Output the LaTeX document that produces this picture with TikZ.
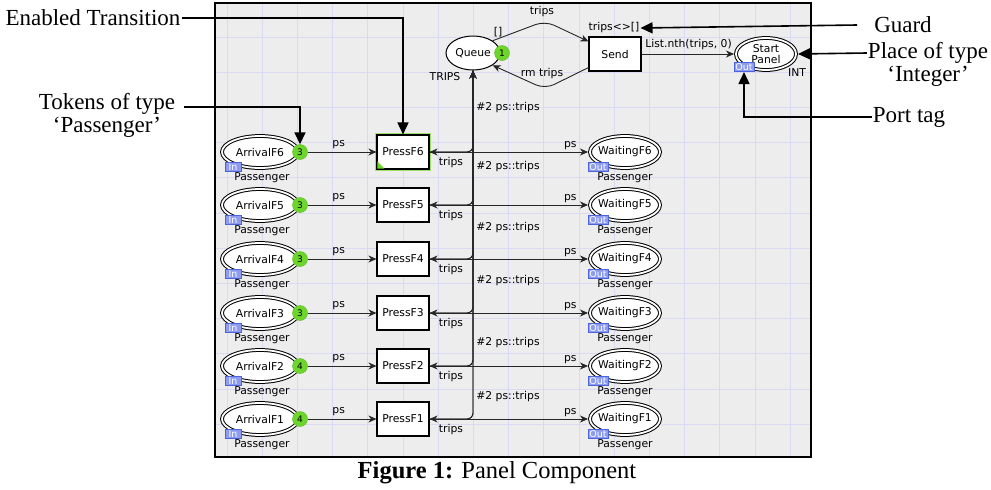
\documentclass[tikz,border=0pt]{standalone}
\usepackage{fontspec}
\setmainfont{Liberation Serif}
\newfontfamily\cpnfont{DejaVu Sans}
\usepackage{tikz}
\usetikzlibrary{shapes.geometric, arrows.meta, positioning, calc}

\definecolor{panelgray}{HTML}{EDEDED}
\definecolor{gridlavender}{HTML}{DADAF2}
\definecolor{tokengreen}{HTML}{6DD62B}
\definecolor{glowgreen}{HTML}{9FE06A}
\definecolor{tagfill}{HTML}{8E9CF0}
\definecolor{tagdraw}{HTML}{4D63DB}

\tikzset{
  % Net elements
  place/.style={ellipse, draw=black, line width=1pt, fill=white, minimum width=#1, minimum height=32pt, inner xsep=-10pt, inner ysep=0pt, align=center, font=\cpnfont\fontsize{10.8}{11.5}\selectfont},
  place/.default={54pt},
  portplace/.style={place=#1, double, double distance=1.8pt, line width=1pt},
  transition/.style={rectangle, draw=black, line width=1.1pt, fill=white, minimum width=52pt, minimum height=34pt, font=\cpnfont\fontsize{10.8}{12}\selectfont},
  enabled/.style={preaction={draw=glowgreen, line width=4.5pt}},
  idle/.style={},
  token/.style={circle, fill=tokengreen, draw=tokengreen!85!black, line width=0.4pt, minimum size=15pt, inner sep=0pt, font=\cpnfont\fontsize{9}{10}\selectfont},
  porttag/.style={rectangle, fill=tagfill, draw=tagdraw, line width=0.6pt, text=white, inner xsep=1.5pt, inner ysep=1pt, text height=7pt, text depth=0.5pt, minimum width=16pt, font=\cpnfont\fontsize{9.5}{10}\selectfont},
  lbl/.style={inner sep=1pt, font=\cpnfont\fontsize{10.8}{12}\selectfont},
  arc/.style={-{Stealth[length=8pt, width=7pt, inset=2.5pt]}, line width=0.9pt, draw=black!85},
  % Annotation styles
  note/.style={inner sep=1pt, font=\fontsize{23}{25}\selectfont},
  callout/.style={-{Triangle[length=12pt, width=11pt]}, line width=1.6pt},
}

\begin{document}
\begin{tikzpicture}[x=1pt, y=-1pt]
  \useasboundingbox (0,0) rectangle (991,490);

  % Panel with grid
  \fill[panelgray] (215,3) rectangle (811,457);
  \foreach \k in {0,...,16}
    \draw[gridlavender, line width=0.8pt] (227+35.2*\k,3) -- (227+35.2*\k,457);
  \foreach \k in {0,...,11}
    \draw[gridlavender, line width=0.8pt] (215,37+35.2*\k) -- (811,37+35.2*\k);
  \draw[line width=1.3pt] (215,3) rectangle (811,457);

  % Queue and Send
  \node[place=54pt, minimum height=34pt] (queue) at (473,53) {Queue};
  \node[token] (qtok) at (502,53) {1};
  \node[lbl] (qtype) at (445,77) {TRIPS};
  \node[lbl] (qinit) at (498,32) {[]};
  \node[transition] (send) at (615,54) {Send};
  \node[lbl] (guard) at (614,28) {trips<>[]};
  \draw[arc, rounded corners=10pt] (queue.32) -- (545,21) -- ([yshift=-5pt]send.north west);
  \draw[arc, rounded corners=10pt] ([yshift=4pt]send.south west) -- (545,89) -- (queue.-32);
  \node[lbl] (toptrips) at (542,12) {trips};
  \node[lbl] (rmtrips) at (542,74) {rm trips};

  % Start panel
  \node[portplace=60pt] (start) at (766,54) {Start\\Panel};
  \node[porttag] (starttag) at (744,67) {Out};
  \node[lbl] (starttype) at (797,73) {INT};
  \draw[arc, shorten >=1.5pt] (send) -- node[lbl, above=3pt] {List.nth(trips, 0)} (start);

  % Floors
  \foreach \i/\y/\n/\st in {6/152/3/enabled, 5/205/3/idle, 4/259/3/idle, 3/313/3/idle, 2/366/4/idle, 1/419/4/idle} {
    \node[portplace=76pt] (arrival\i) at (260,\y) {ArrivalF\i};
    \node[porttag] (intag\i) at (233,\y+15) {In};
    \node[lbl] (intype\i) at (262,\y+26) {Passenger};
    \node[token] (tok\i) at (300,\y) {\n};
    \node[transition, \st] (press\i) at (403,\y) {PressF\i};
    \node[portplace=70pt] (waiting\i) at (625,\y) {WaitingF\i};
    \node[porttag] (outtag\i) at (598,\y+15) {Out};
    \node[lbl] (outtype\i) at (625,\y+26) {Passenger};
    \draw[arc] (tok\i) -- node[lbl, above=2pt, pos=0.45] {ps} (press\i);
    \draw[arc, shorten >=1.5pt] (press\i) -- node[lbl, above=1pt, pos=0.88] {ps} (waiting\i);
    \draw[arc, rounded corners=6pt] (queue.south) |- (press\i.east);
    \draw[arc, rounded corners=6pt] (press\i.east) -| (queue.south);
    \node[lbl] (trips\i) at (451,\y+11) {trips};
  }
  \fill[tokengreen] ([shift={(1pt,1pt)}]press6.south west) -- ++(7,0) -- ++(-7,-7) -- cycle;

  % Arc inscriptions back to the queue
  \foreach \y [count=\j] in {108,167,228,281,343,397}
    \node[lbl] (back\j) at (508,\y) {\#2 ps::trips};

  % Annotations
  \node[note] (entxt) at (93,18) {Enabled Transition};
  \draw[callout] (entxt.east) -| (press6.north);
  \node[note] (toktxt) at (107,104) {Tokens of type};
  \node[note, below=0pt of toktxt] (toktype) {`Passenger'};
  \draw[callout] ([xshift=8pt, yshift=-3pt]toktxt.east) -| (tok6.north);
  \node[note] (guardtxt) at (903,25) {Guard};
  \draw[callout] ([xshift=-16pt]guardtxt.west) -- (guard.east);
  \node[note] (placetxt) at (928,53) {Place of type};
  \node[note, below=0pt of placetxt] (inttxt) {`Integer'};
  \draw[callout, shorten >=1.5pt] (placetxt.west) -- (start.east);
  \node[note] (porttxt) at (909,117) {Port tag};
  \draw[callout] (porttxt.west) -| (starttag.south);

  % Caption
  \node[font=\fontsize{24.5}{26}\selectfont] (caption) at (497,473) {\textbf{Figure 1:} Panel Component};
\end{tikzpicture}
\end{document}
